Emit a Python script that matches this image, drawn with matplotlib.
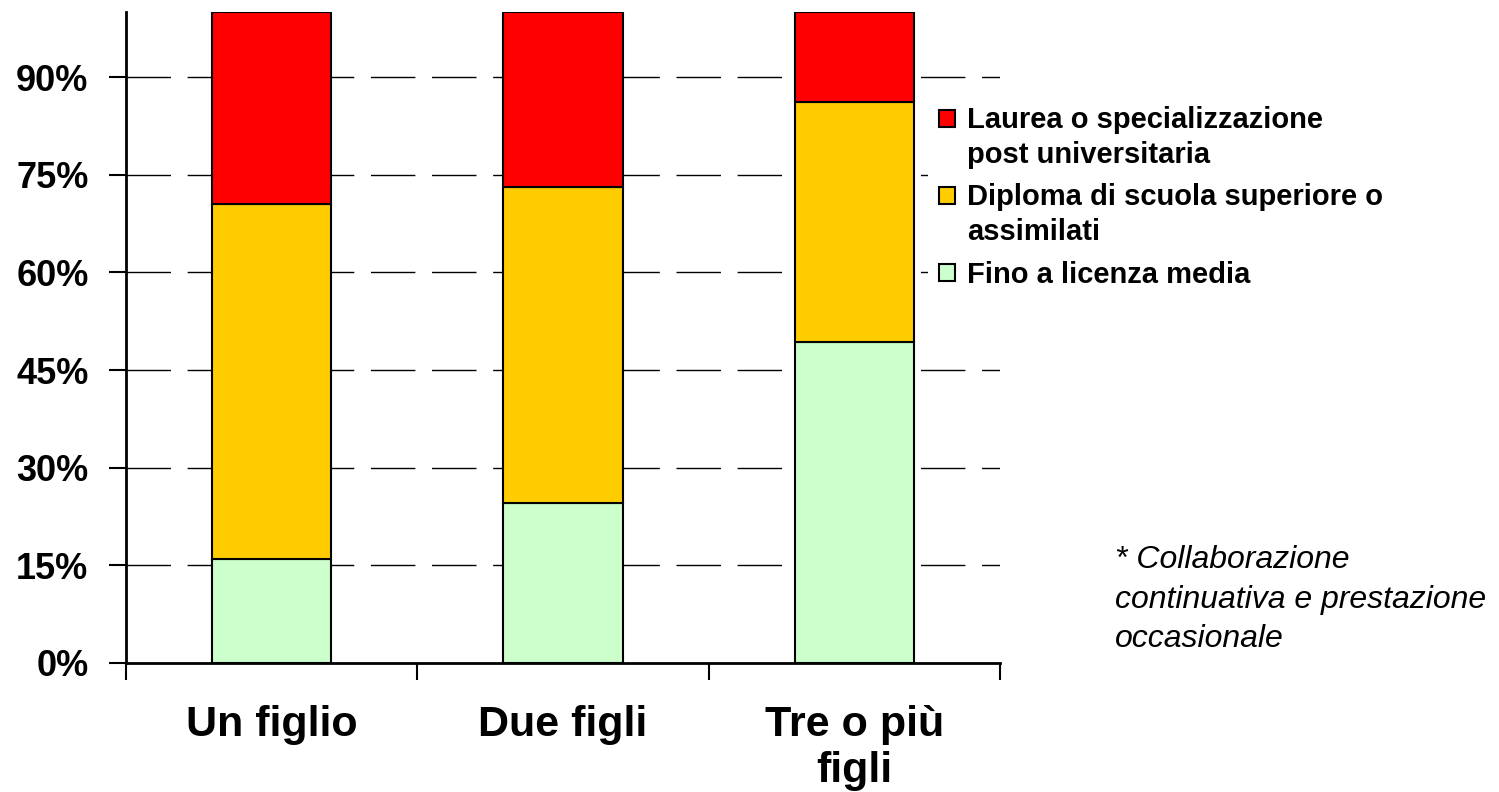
import matplotlib
matplotlib.use("Agg")
import matplotlib.pyplot as plt
from matplotlib.patches import Rectangle
from matplotlib.legend_handler import HandlerPatch
import numpy as np

categories = ["Un figlio", "Due figli", "Tre o più\nfigli"]
fino_media = [16.0, 24.6, 49.3]
diploma = [54.5, 48.5, 36.9]
laurea = [29.5, 26.9, 13.8]
series_labels = ["Laurea o specializzazione\npost universitaria",
                 "Diploma di scuola superiore o\nassimilati",
                 "Fino a licenza media"]
colors = ["#FF0000", "#FFCC00", "#CCFFCC"]
yticks = [0, 15, 30, 45, 60, 75, 90]
footnote = "* Collaborazione\ncontinuativa e prestazione\noccasionale"

plt.rcParams['font.family'] = ['Liberation Sans', 'DejaVu Sans']

fig = plt.figure(figsize=(14.99, 7.92), dpi=100)
ax = fig.add_axes([126/1499, 1-663/792, (1000-126)/1499, (663-12)/792])

x = np.arange(len(categories))
w = 0.41
b1 = ax.bar(x, fino_media, w, color=colors[2], edgecolor="black", linewidth=1.5, zorder=3)
b2 = ax.bar(x, diploma, w, bottom=fino_media, color=colors[1], edgecolor="black", linewidth=1.5, zorder=3)
bottom2 = np.array(fino_media) + np.array(diploma)
b3 = ax.bar(x, laurea, w, bottom=bottom2, color=colors[0], edgecolor="black", linewidth=1.5, zorder=3)

ax.set_xlim(-0.5, len(categories) - 0.5)
ax.set_ylim(0, 100)
ax.set_yticks(yticks)
ax.set_yticklabels([f"{v}%" for v in yticks], fontsize=26, fontweight="bold")
for v in yticks[1:]:
    ax.axhline(v, color="black", linewidth=1.0, dashes=(32, 12), zorder=1)

ax.set_xticks(np.arange(-0.5, len(categories)), minor=False)
ax.set_xticklabels([])
ax.set_xticks(x, minor=True)
ax.set_xticklabels(categories, minor=True, fontsize=31, fontweight="bold")
ax.tick_params(axis="x", which="major", length=12, width=1.5, direction="out")
ax.tick_params(axis="x", which="minor", length=0, pad=30)
ax.tick_params(axis="y", length=12, width=1.5, direction="out", pad=15)

for s in ["top", "right"]:
    ax.spines[s].set_visible(False)
for s in ["left", "bottom"]:
    ax.spines[s].set_linewidth(2)


def raised_patch(legend, orig_handle, xdescent, ydescent, width, height, fontsize):
    return Rectangle((-xdescent, -ydescent + 0.68 * fontsize), width, height)


h_red, h_yel, h_grn = b3.patches[0], b2.patches[0], b1.patches[0]
handler_up = HandlerPatch(patch_func=raised_patch)
leg = fig.legend([h_red, h_yel, h_grn], series_labels, loc="upper left",
                 bbox_to_anchor=(913/1499, 1-80/792), frameon=True, fancybox=False,
                 facecolor="white", edgecolor="none", framealpha=1.0,
                 prop={"size": 21, "weight": "bold"}, handlelength=0.55, handleheight=0.55,
                 handletextpad=0.4, labelspacing=0.5,
                 handler_map={h_red: handler_up, h_yel: handler_up})
for t in leg.get_texts():
    t.set_linespacing(1.3)

fig.text(1115/1499, 1-545/792, footnote, fontsize=23, style="italic",
         va="top", ha="left", linespacing=1.42)

fig.savefig("out.png", dpi=100)
